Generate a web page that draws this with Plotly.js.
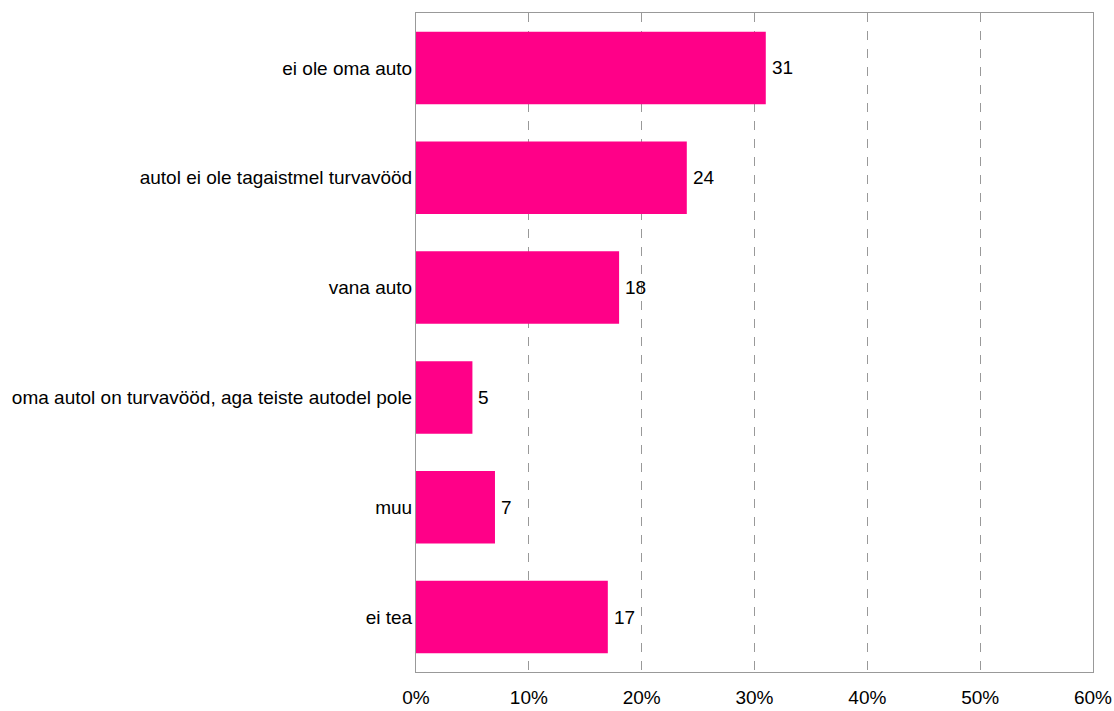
<!DOCTYPE html>
<html><head><meta charset="utf-8">
<script src="https://cdn.plot.ly/plotly-3.0.1.min.js"></script>
<style>html,body{margin:0;padding:0;background:#fff}</style>
</head><body>
<div id="chart" style="width:1114px;height:711px"></div>
<script>
const categories = ["ei ole oma auto","autol ei ole tagaistmel turvavööd","vana auto","oma autol on turvavööd, aga teiste autodel pole","muu","ei tea"];
const values = [31, 24, 18, 5, 7, 17];
const tickVals = [0,10,20,30,40,50,60];
const tickText = ["0%","10%","20%","30%","40%","50%","60%"];

const FONT = 'Liberation Sans, Arial, sans-serif';
Plotly.newPlot('chart', [{
  type: 'bar', orientation: 'h',
  y: categories, x: values,
  marker: {color: '#FF0088'},
  width: 0.66, hoverinfo: 'none'
}], {
  width: 1114, height: 711,
  margin: {l: 416, r: 21, t: 13, b: 39},
  paper_bgcolor: '#fff', plot_bgcolor: '#fff',
  font: {family: FONT, size: 19, color: '#000'},
  showlegend: false,
  annotations: values.map((v, i) => ({
    x: v, y: categories[i], xref: 'x', yref: 'y', text: String(v),
    showarrow: false, xanchor: 'left', yanchor: 'middle', xshift: 4,
    font: {family: FONT, size: 19, color: '#000'}
  })),
  xaxis: {range: [0, 60], tickvals: tickVals, ticktext: tickText,
    showgrid: true, gridcolor: '#999', griddash: 'dash', gridwidth: 1,
    showline: true, linecolor: '#999', linewidth: 1, mirror: true,
    zeroline: false, ticks: '', ticklabelstandoff: 8, fixedrange: true},
  yaxis: {autorange: 'reversed', showline: true, linecolor: '#999', linewidth: 1, mirror: true,
    showgrid: false, ticks: '', ticklabelstandoff: -1, fixedrange: true}
}, {displayModeBar: false, staticPlot: true});
</script>
</body></html>
